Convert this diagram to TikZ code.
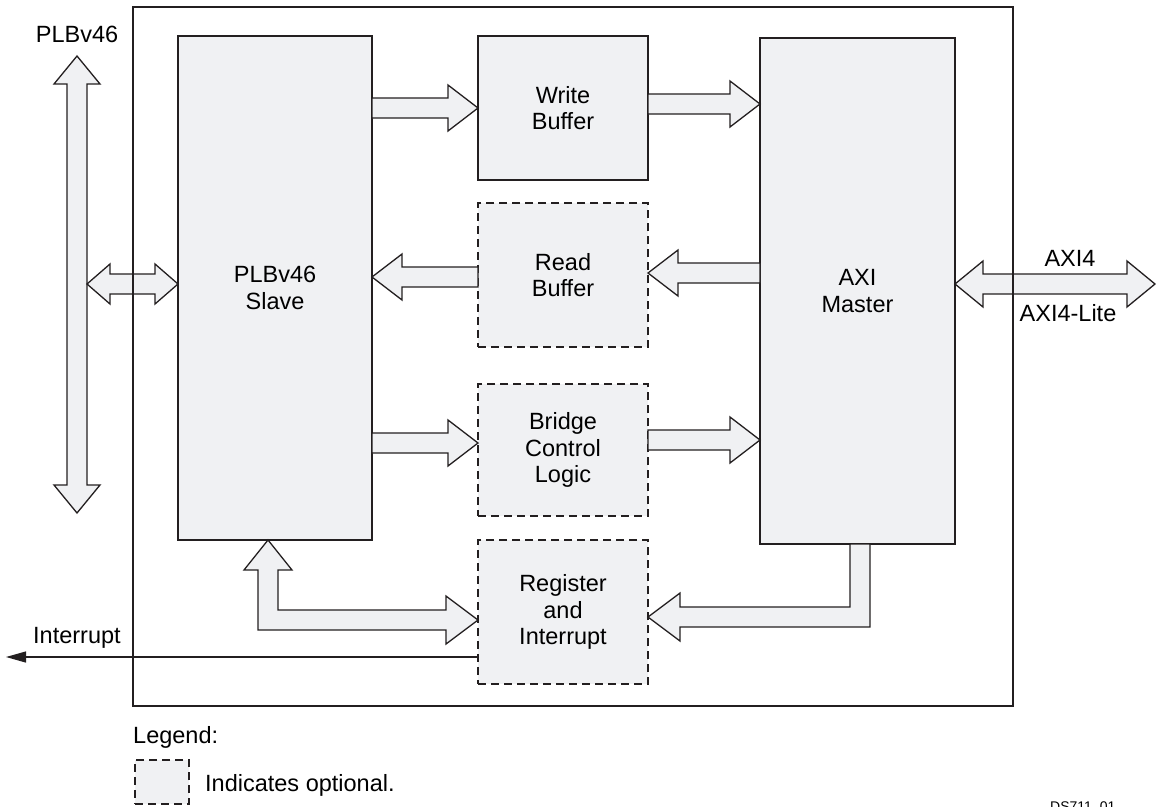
\documentclass[tikz,border=0pt]{standalone}
\usepackage{fontspec}
\setmainfont{Liberation Sans}
\usetikzlibrary{calc,arrows.meta}
\definecolor{boxfill}{RGB}{240,241,243}
\definecolor{ink}{RGB}{35,31,32}
\newcommand\bodyfont{\fontsize{23.5}{26.5}\selectfont}
% right-pointing block arrow: from anchor #1 to anchor #2 at image y #3
\newcommand\rarr[3]{\draw[barrow] let \p1=(#1),\p2=(#2),\p3=(0,#3) in
  (\x1,{\y3+10pt}) -- ({\x2-30pt},{\y3+10pt}) -- ({\x2-30pt},{\y3+23pt}) -- (\x2,\y3)
  -- ({\x2-30pt},{\y3-23pt}) -- ({\x2-30pt},{\y3-10pt}) -- (\x1,{\y3-10pt}) -- cycle;}
% left-pointing block arrow
\newcommand\larr[3]{\draw[barrow] let \p1=(#1),\p2=(#2),\p3=(0,#3) in
  (\x1,{\y3+10pt}) -- ({\x2+30pt},{\y3+10pt}) -- ({\x2+30pt},{\y3+23pt}) -- (\x2,\y3)
  -- ({\x2+30pt},{\y3-23pt}) -- ({\x2+30pt},{\y3-10pt}) -- (\x1,{\y3-10pt}) -- cycle;}
% double horizontal block arrow: left #1, right #2, y #3, head length #4, head half width #5
\newcommand\dharr[5]{\draw[barrow] let \p1=(#1),\p2=(#2),\p3=(0,#3) in
  (\x1,\y3) -- ({\x1+#4pt},{\y3+#5pt}) -- ({\x1+#4pt},{\y3+10pt}) -- ({\x2-#4pt},{\y3+10pt})
  -- ({\x2-#4pt},{\y3+#5pt}) -- (\x2,\y3) -- ({\x2-#4pt},{\y3-#5pt}) -- ({\x2-#4pt},{\y3-10pt})
  -- ({\x1+#4pt},{\y3-10pt}) -- ({\x1+#4pt},{\y3-#5pt}) -- cycle;}
\begin{document}
\begin{tikzpicture}[x=1pt,y=-1pt,
  block/.style={draw=ink, line width=2.5pt, fill=boxfill, inner sep=0pt, outer sep=0pt,
    align=center, font=\bodyfont},
  optional/.style={block, dash pattern=on 8pt off 5pt},
  barrow/.style={draw=ink, line width=1.3pt, fill=boxfill, line join=miter},
  lbl/.style={font=\bodyfont, inner sep=0pt}]
\useasboundingbox (0,0) rectangle (1156,806);

% blocks
\node[block, minimum width=194pt, minimum height=504pt] (slave) at (275,288) {PLBv46\\Slave};
\node[block, minimum width=170pt, minimum height=144pt] (wb) at (563,108) {Write\\Buffer};
\node[optional, minimum width=170pt, minimum height=144pt] (rb) at (563,275) {Read\\Buffer};
\node[optional, minimum width=170pt, minimum height=132pt] (bcl) at (563,450) {Bridge\\Control\\Logic};
\node[optional, minimum width=170pt, minimum height=144pt] (reg) at (563,612) {Register\\and\\Interrupt};
\node[block, minimum width=195pt, minimum height=506pt] (axi) at (857.5,291) {AXI\\Master};

% internal block arrows
\rarr{slave.east}{wb.west}{108}
\rarr{wb.east}{axi.west}{104}
\larr{axi.west}{rb.east}{273}
\larr{rb.west}{slave.east}{277}
\rarr{slave.east}{bcl.west}{443}
\rarr{bcl.east}{axi.west}{440}

% PLBv46 bus
\coordinate (plbtop) at (77,56);
\coordinate (plbbot) at (77,513);
\draw[barrow] let \p1=(plbtop),\p2=(plbbot) in
  (\x1,\y1) -- ({\x1+23pt},{\y1-28pt}) -- ({\x1+10pt},{\y1-28pt}) -- ({\x1+10pt},{\y2+28pt})
  -- ({\x1+23pt},{\y2+28pt}) -- (\x1,\y2) -- ({\x1-23pt},{\y2+28pt}) -- ({\x1-10pt},{\y2+28pt})
  -- ({\x1-10pt},{\y1-28pt}) -- ({\x1-23pt},{\y1-28pt}) -- cycle;
\coordinate (plbjoin) at (87,284);
\dharr{plbjoin}{slave.west}{284}{23}{20}

% AXI4 bus
\coordinate (axiend) at (1155,284);
\dharr{axi.east}{axiend}{284}{28}{23}

% slave <-> register
\draw[barrow] let \p1=(slave.south),\p2=(reg.west),\p3=(268,620) in
  (\x3,\y1) -- ({\x3+24pt},{\y1-30pt}) -- ({\x3+10pt},{\y1-30pt}) -- ({\x3+10pt},{\y3+10pt})
  -- ({\x2-32pt},{\y3+10pt}) -- ({\x2-32pt},{\y3+24pt}) -- (\x2,\y3) -- ({\x2-32pt},{\y3-24pt})
  -- ({\x2-32pt},{\y3-10pt}) -- ({\x3-10pt},{\y3-10pt}) -- ({\x3-10pt},{\y1-30pt})
  -- ({\x3-24pt},{\y1-30pt}) -- cycle;

% AXI master -> register
\draw[barrow] let \p1=(axi.south),\p2=(reg.east),\p3=(860,617) in
  ({\x3-10pt},\y1) -- ({\x3-10pt},{\y3+10pt}) -- ({\x2+32pt},{\y3+10pt}) -- ({\x2+32pt},{\y3+24pt})
  -- (\x2,\y3) -- ({\x2+32pt},{\y3-24pt}) -- ({\x2+32pt},{\y3-10pt}) -- ({\x3+10pt},{\y3-10pt})
  -- ({\x3+10pt},\y1) -- cycle;

% interrupt
\coordinate (intend) at (6,657);
\draw[draw=ink, line width=1.3pt, -{Triangle[length=20pt,width=11pt]}] (reg.west |- intend) -- (intend);

% outer box
\node[draw=ink, line width=2.5pt, minimum width=880pt, minimum height=699pt, inner sep=0pt, outer sep=0pt] (outer) at (573,356.5) {};

% labels
\node[lbl, anchor=base] (lplb) at (77,42) {PLBv46};
\node[lbl, anchor=base] (laxi) at (1070,266) {AXI4};
\node[lbl, anchor=base] (laxil) at (1068,321) {AXI4-Lite};
\node[lbl, anchor=base west] (lint) at (33,643) {Interrupt};

% legend
\node[lbl, anchor=base west] (leg) at (133,743) {Legend:};
\node[optional, minimum width=54pt, minimum height=44pt] (legbox) at (162,782) {};
\node[lbl, anchor=base west] (legtxt) at (205,791) {Indicates optional.};
\node[anchor=north west, inner sep=0pt, font=\fontsize{14}{16}\selectfont] (ds) at (1050,802) {DS711\_01};
\end{tikzpicture}
\end{document}
